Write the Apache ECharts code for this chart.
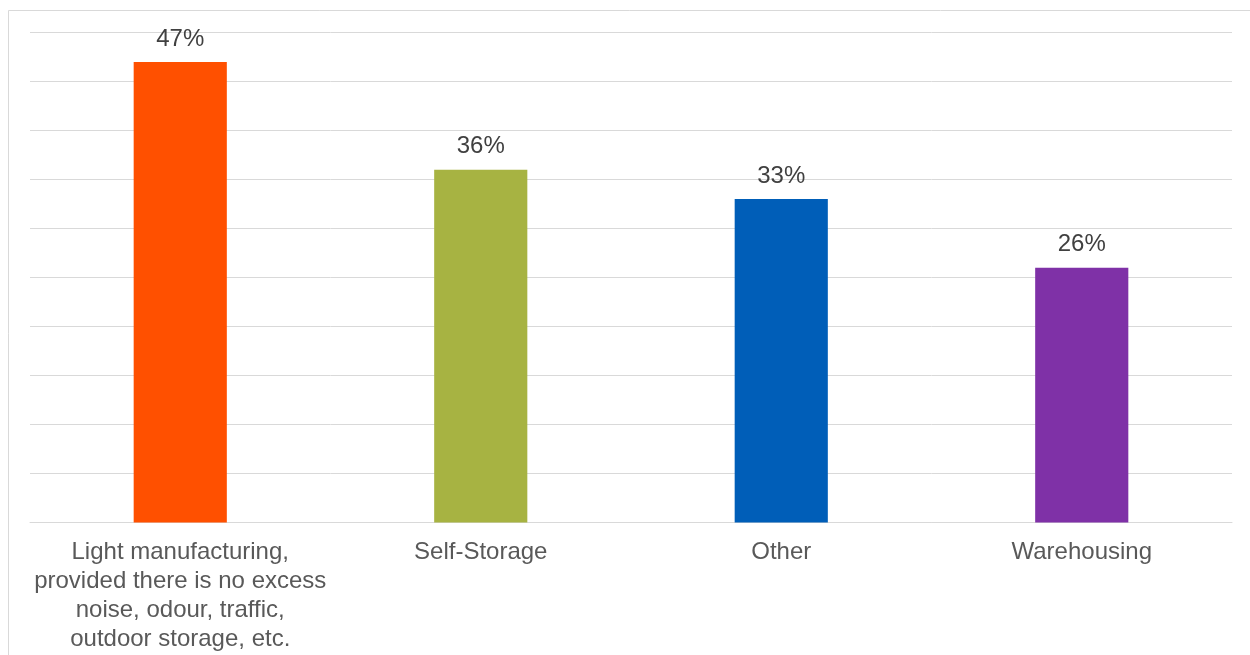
<!DOCTYPE html>
<html>
<head>
<meta charset="utf-8">
<title>Preferred uses</title>
<script src="https://cdn.jsdelivr.net/npm/echarts@6/dist/echarts.min.js"></script>
<style>
  html, body { margin: 0; padding: 0; background: #ffffff; }
  #chart { width: 1250px; height: 655px; }
</style>
</head>
<body>
<div id="chart"></div>
<script>
// Share of respondents selecting each use (percent)
const categories = [
  'Light manufacturing,\nprovided there is no excess\nnoise, odour, traffic,\noutdoor storage, etc.',
  'Self-Storage',
  'Other',
  'Warehousing'
];
const shares = [47, 36, 33, 26];
const barColors = ['#FF5000', '#A7B342', '#005EB8', '#7F31A7'];

const chart = echarts.init(document.getElementById('chart'), null, { renderer: 'canvas' });

chart.setOption({
  backgroundColor: '#ffffff',
  animation: false,
  graphic: [{
    type: 'rect',
    shape: { x: 8.5, y: 10.5, width: 1400, height: 800 },
    style: { fill: 'none', stroke: '#d9d9d9', lineWidth: 1 },
    silent: true,
    z: -1
  }],
  grid: { left: 30, right: 18, top: 32.5, bottom: 132.5 },
  xAxis: {
    type: 'category',
    data: categories,
    axisLine: { show: true, lineStyle: { color: '#d9d9d9', width: 1 } },
    axisTick: { show: false },
    axisLabel: {
      interval: 0,
      color: '#595959',
      fontFamily: 'Liberation Sans, Arial, sans-serif',
      fontSize: 24,
      lineHeight: 29,
      margin: 15
    }
  },
  yAxis: {
    type: 'value',
    min: 0,
    max: 50,
    interval: 5,
    axisLine: { show: false },
    axisTick: { show: false },
    axisLabel: { show: false },
    splitLine: { show: true, lineStyle: { color: '#d9d9d9', width: 1 } }
  },
  series: [{
    type: 'bar',
    barWidth: '31%',
    data: shares.map((v, i) => ({ value: v, itemStyle: { color: barColors[i] } })),
    label: {
      show: true,
      position: 'top',
      distance: 11,
      color: '#404040',
      fontFamily: 'Liberation Sans, Arial, sans-serif',
      fontSize: 24,
      formatter: p => p.value + '%'
    }
  }]
});
</script>
</body>
</html>
